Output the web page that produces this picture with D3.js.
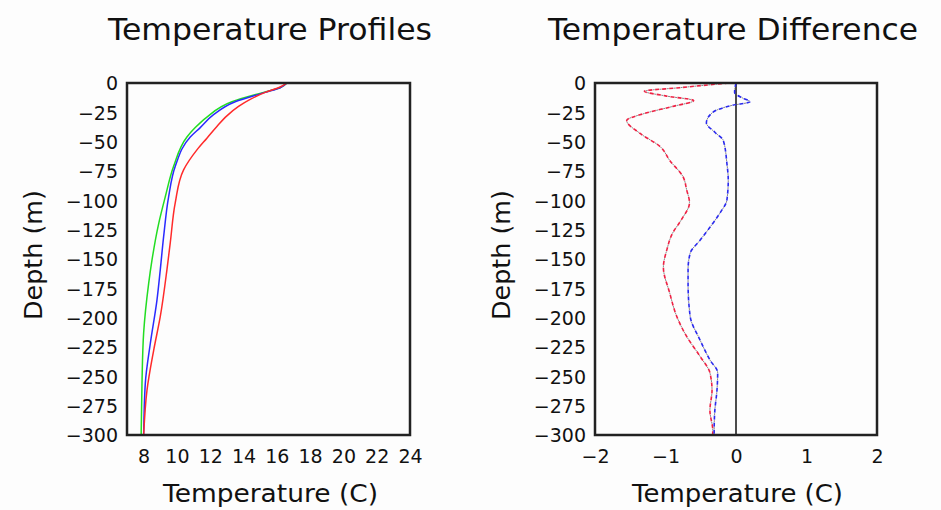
<!DOCTYPE html>
<html><head><meta charset="utf-8">
<script src="https://cdn.jsdelivr.net/npm/d3@7"></script>
<style>
html,body{margin:0;padding:0;background:#fdfdfd;}
svg{display:block;}
text{font-family:"DejaVu Sans",sans-serif;fill:#111;}
</style></head>
<body>
<svg id="c" width="941" height="510"></svg>
<script>
// ---- data ----
const depthTicks = [0,-25,-50,-75,-100,-125,-150,-175,-200,-225,-250,-275,-300];
const tempTicks = [8,10,12,14,16,18,20,22,24];
const diffTicks = [-2,-1,0,1,2];

const redDepth   = [0,4,8,14,20,28,37,47,57,74,102,136,159,199,228,262,300];
const redTemp    = [16.6,16.1,15.3,14.4,13.7,13.0,12.4,11.8,11.2,10.4,9.9,9.6,9.4,9.0,8.6,8.2,8.0];
const blueDepth  = [0,4,8,16,27,38,46,71,97,131,159,185,222,256,300];
const blueTemp   = [16.6,16.2,15.3,13.5,12.2,11.4,10.8,9.9,9.5,9.2,9.0,8.8,8.4,8.1,8.0];
const greenDepth = [0,4,8,16,29,38,46,71,97,120,151,171,213,256,300];
const greenTemp  = [16.6,16.2,15.2,13.3,11.8,11.1,10.6,9.8,9.3,8.9,8.5,8.3,8.0,7.9,7.85];

const redDiffDepth = [0,4,7,11,15,20,26,32,43,54,66,80,91,102,117,128,142,157,179,199,216,233,247,262,279,296,300];
const redDiff      = [-0.1,-0.8,-1.3,-1.0,-0.6,-0.9,-1.3,-1.55,-1.36,-1.08,-0.94,-0.75,-0.7,-0.66,-0.78,-0.9,-0.98,-1.03,-0.94,-0.84,-0.7,-0.51,-0.37,-0.34,-0.37,-0.33,-0.33];
const blueDiffDepth = [0,8,13,16,19,25,34,42,49,68,83,100,111,123,134,145,159,171,199,219,236,247,262,279,296,300];
const blueDiff      = [0,-0.02,0.1,0.2,-0.05,-0.33,-0.42,-0.3,-0.18,-0.13,-0.11,-0.13,-0.23,-0.37,-0.51,-0.65,-0.68,-0.68,-0.65,-0.51,-0.37,-0.26,-0.27,-0.3,-0.31,-0.31];

// ---- drawing ----
const svg = d3.select("#c");
const plotTop = 83, plotBottom = 435;
const y = d3.scaleLinear().domain([0,-300]).range([plotTop,plotBottom]);

function pairs(ds, vs){ return ds.map((d,i)=>({d:-d, v:vs[i]})); }

function panel(o){
  const x = d3.scaleLinear().domain(o.domain).range([o.x0,o.x1]);
  const g = svg.append("g");
  const ya = g.append("g").attr("transform",`translate(${o.x0-9},0)`)
    .call(d3.axisLeft(y).tickValues(depthTicks).tickSize(0).tickPadding(0).tickFormat(d3.format("d")));
  ya.select(".domain").remove();
  ya.selectAll("text").attr("font-size",19).attr("font-family","DejaVu Sans").attr("fill","#111").attr("dy","0.36em");
  const xa = g.append("g").attr("transform",`translate(0,${plotBottom+14})`)
    .call(d3.axisBottom(x).tickValues(o.ticks).tickSize(0).tickPadding(0).tickFormat(d3.format("d")));
  xa.select(".domain").remove();
  xa.selectAll("text").attr("font-size",19).attr("font-family","DejaVu Sans").attr("fill","#111").attr("dy","0.71em");
  if (o.zero){
    g.append("line").attr("x1",x(0)).attr("x2",x(0)).attr("y1",plotTop).attr("y2",plotBottom)
      .attr("stroke","#111").attr("stroke-width",1.5);
  }
  const line = d3.line().x(p=>x(p.v)).y(p=>y(p.d)).curve(d3.curveMonotoneY);
  o.series.forEach(s=>{
    const data = pairs(s.depth, s.vals);
    if (s.dashed){
      g.append("path").datum(data).attr("d",line).attr("fill","none")
        .attr("stroke",s.color).attr("stroke-width",1.6).attr("stroke-dasharray","4,3");
      g.append("path").datum(data).attr("d",line).attr("fill","none")
        .attr("stroke","#555").attr("stroke-width",1.0).attr("stroke-dasharray","2,5").attr("stroke-dashoffset",-4.5).attr("opacity",0.7);
    } else {
      g.append("path").datum(data).attr("d",line).attr("fill","none")
        .attr("stroke",s.color).attr("stroke-width",1.5);
    }
  });
  g.append("rect").attr("x",o.x0).attr("y",plotTop).attr("width",o.x1-o.x0).attr("height",plotBottom-plotTop)
    .attr("fill","none").attr("stroke","#222").attr("stroke-width",2.5);
  g.append("text").attr("x",o.tx0).attr("y",40).attr("font-size",30)
    .attr("textLength",o.tw).attr("lengthAdjust","spacingAndGlyphs").text(o.title);
  g.append("text").attr("x",o.lx0).attr("y",502).attr("font-size",25)
    .attr("textLength",o.lw).attr("lengthAdjust","spacingAndGlyphs").text("Temperature (C)");
  g.append("text").attr("transform",`translate(${o.yl},320) rotate(-90)`).attr("font-size",25)
    .attr("textLength",130).attr("lengthAdjust","spacingAndGlyphs").text("Depth (m)");
}

panel({domain:[7,24], x0:127, x1:410, ticks:tempTicks, title:"Temperature Profiles",
  tx0:108, tw:324, lx0:163, lw:215, yl:42,
  series:[
    {depth:greenDepth, vals:greenTemp, color:"#22dd22"},
    {depth:blueDepth, vals:blueTemp, color:"#2a2aff"},
    {depth:redDepth, vals:redTemp, color:"#ff2a2a"}
  ]});

panel({domain:[-2,2], x0:595, x1:877, ticks:diffTicks, title:"Temperature Difference", zero:true,
  tx0:548, tw:370, lx0:632, lw:211, yl:510,
  series:[
    {depth:redDiffDepth, vals:redDiff, color:"#ee2244", dashed:true},
    {depth:blueDiffDepth, vals:blueDiff, color:"#2a2aee", dashed:true}
  ]});
</script>
</body></html>
